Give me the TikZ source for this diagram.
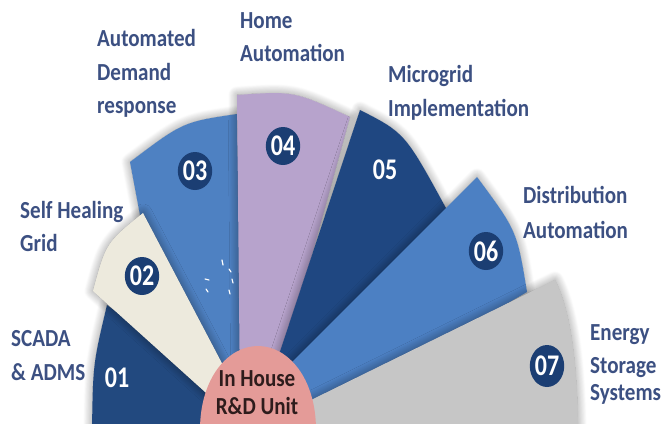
\documentclass[tikz,border=0pt]{standalone}
\usepackage{fontspec}
\setmainfont{Carlito}
\newfontfamily\labfont[FakeStretch=0.86]{Carlito}
\newfontfamily\numfont[FakeStretch=0.8]{Carlito}
\usetikzlibrary{shadows.blur,shapes.geometric}
\definecolor{cA}{HTML}{22497F}
\definecolor{cB}{HTML}{EDEADD}
\definecolor{cC}{HTML}{4E81C2}
\definecolor{cD}{HTML}{B7A3CC}
\definecolor{cE}{HTML}{1F4781}
\definecolor{cF}{HTML}{4C80C3}
\definecolor{cG}{HTML}{C6C6C6}
\definecolor{hubc}{HTML}{E49B98}
\definecolor{badgec}{HTML}{1B3E73}
\definecolor{labc}{HTML}{3C5082}
\definecolor{hubtxt}{HTML}{2E1C1C}
\tikzset{
  sector/.style={blur shadow={shadow xshift=0pt, shadow yshift=0pt, shadow blur radius=9pt, shadow opacity=45, shadow blur steps=12}},
  badge/.style={ellipse, fill=badgec, minimum width=34pt, minimum height=38pt, inner sep=0pt, text=white, font=\numfont\bfseries\fontsize{30}{30}\selectfont},
  numtxt/.style={text=white, inner sep=0pt, font=\numfont\bfseries\fontsize{30}{30}\selectfont},
  lab/.style={text=labc, anchor=base west, inner sep=0pt, font=\labfont\bfseries\fontsize{24.5}{30}\selectfont},
  hubtext/.style={text=hubtxt, anchor=base, inner sep=0pt, font=\labfont\bfseries\fontsize{24.5}{30}\selectfont},
  tick/.style={white, line width=1.2pt, line cap=round}
}
\begin{document}
\begin{tikzpicture}[x=1pt,y=-1pt]
\useasboundingbox (0,0) rectangle (666,423);
\clip (0,0) rectangle (666,423);
% 01
\fill[cA, sector] (92,430) .. controls (93,364) .. (107,305) -- (245,405) -- (245,430) -- cycle;
% 03
\fill[cC, sector] (130,162) .. controls (183,122) .. (237,114) -- (242,400) -- (215,400) -- (140,215) -- cycle;
% 02
\fill[cB, sector] (93,291) .. controls (106,243) .. (143,213) -- (266,447) -- cycle;
% 04
\fill[cD, sector] (237,95) .. controls (294,91) .. (350,117) -- (272,400) -- (240,400) -- cycle;
% 05
\fill[cE, sector] (360,110) .. controls (405,133) .. (447,210) -- (290,400) -- (264,400) -- cycle;
% 06
\fill[cF, sector] (477,177) .. controls (517,231) .. (527,292) -- (290,430) -- (259,395) -- cycle;
% 07
\fill[cG, sector] (555,280) .. controls (570,310) and (577,360) .. (578,430) -- (250,430) -- cycle;
% ticks
\draw[tick] (222,260) -- (223,265);
\draw[tick] (229,269) -- (231,272);
\draw[tick] (232,279) -- (233,283);
\draw[tick] (229,290) -- (230,294);
\draw[tick] (205,279) -- (209,280);
\draw[tick] (206,289) -- (208,292);
% hub
\fill[hubc] (200,430) .. controls (200,378) and (228,346) .. (258,346) .. controls (288,346) and (316,378) .. (316,430) -- cycle;
\node[hubtext] (hub1) at (257,386) {In House};
\node[hubtext] (hub2) at (257,414) {R\&D Unit};
% numbers
\node[numtxt] (n1) at (117,378) {01};
\node[badge] (n2) at (142,276) {02};
\node[badge] (n3) at (195,171) {03};
\node[badge] (n4) at (283,146) {04};
\node[numtxt] (n5) at (385,170) {05};
\node[badge] (n6) at (486,251) {06};
\node[badge, minimum width=33pt, minimum height=42pt] (n7) at (547,366) {07};
% labels
\node[lab] (t1a) at (11,346) {SCADA};
\node[lab] (t1b) at (11,380) {\& ADMS};
\node[lab] (t2a) at (20,218) {Self Healing};
\node[lab] (t2b) at (20,251) {Grid};
\node[lab] (t3a) at (97,46) {Automated};
\node[lab] (t3b) at (97,80) {Demand};
\node[lab] (t3c) at (97,113) {response};
\node[lab] (t4a) at (240,28) {Home};
\node[lab] (t4b) at (240,61) {Automation};
\node[lab] (t5a) at (388,82) {Microgrid};
\node[lab] (t5b) at (388,116) {Implementation};
\node[lab] (t6a) at (523,203) {Distribution};
\node[lab] (t6b) at (523,238) {Automation};
\node[lab] (t7a) at (590,340) {Energy};
\node[lab] (t7b) at (590,373) {Storage};
\node[lab] (t7c) at (590,400) {Systems};
\end{tikzpicture}
\end{document}
